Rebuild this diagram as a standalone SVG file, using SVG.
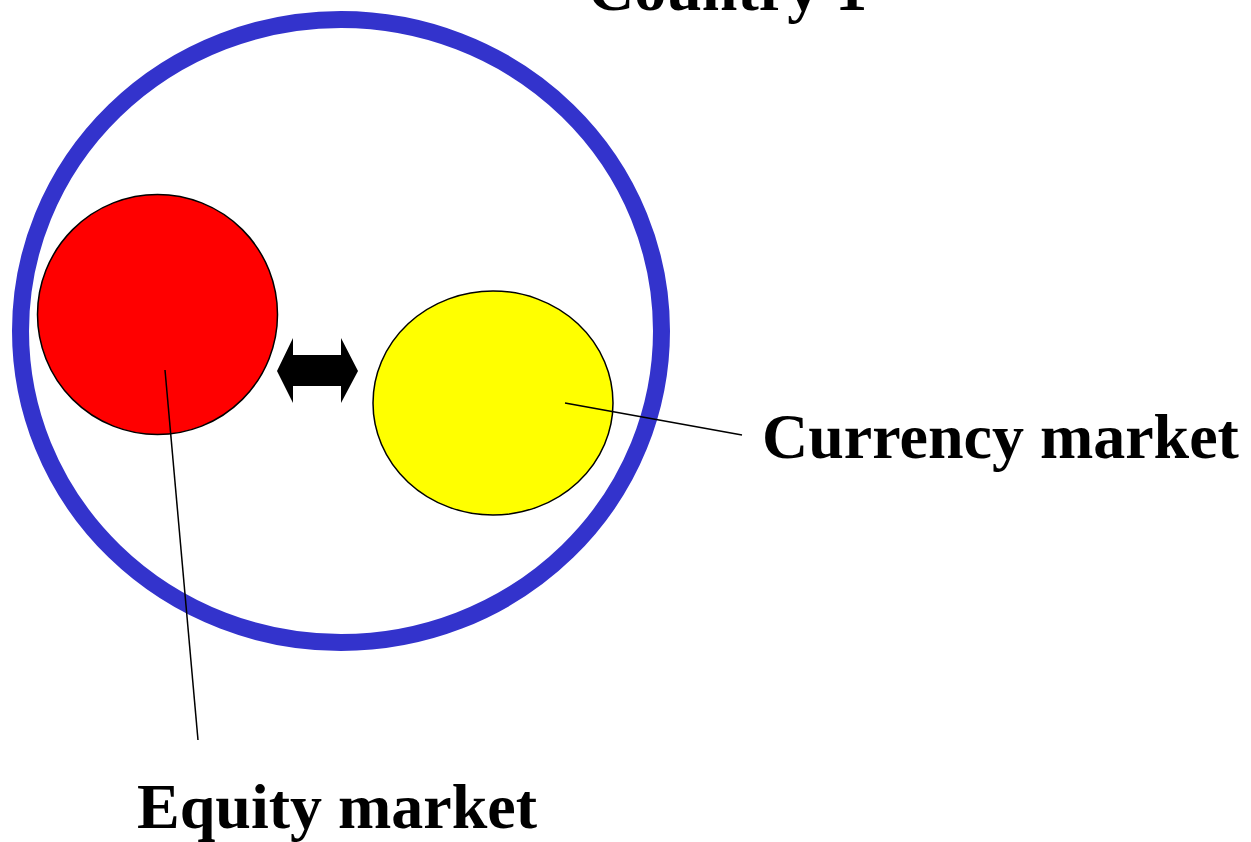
<svg xmlns="http://www.w3.org/2000/svg" width="1251" height="842" viewBox="0 0 1251 842">
<style>
.lbl{font-family:"Liberation Serif","Times New Roman",serif;font-weight:bold;font-size:64px;fill:#000}
.lead{stroke:#000;stroke-width:1.5;fill:none}
</style>
<rect width="1251" height="842" fill="#fff"/>
<g id="country">
<ellipse cx="341" cy="331" rx="320.5" ry="311.5" fill="none" stroke="#3333cc" stroke-width="17"/>
<text class="lbl" x="588" y="10">Country 1</text>
</g>
<g id="equity">
<circle cx="157.5" cy="314.5" r="120" fill="#ff0000" stroke="#000" stroke-width="1.5"/>
<text class="lbl" x="137" y="828">Equity market</text>
</g>
<g id="currency">
<ellipse cx="493" cy="403" rx="120" ry="112" fill="#ffff00" stroke="#000" stroke-width="1.5"/>
<text class="lbl" x="762" y="458">Currency market</text>
</g>
<g id="connectors">
<polygon points="277,371 293,338 293,355 341,355 341,338 358,371 341,403 341,386 293,386 293,403" fill="#000"/>
<line class="lead" x1="165" y1="370" x2="198" y2="740"/>
<line class="lead" x1="565" y1="403" x2="742" y2="435"/>
</g>
</svg>
